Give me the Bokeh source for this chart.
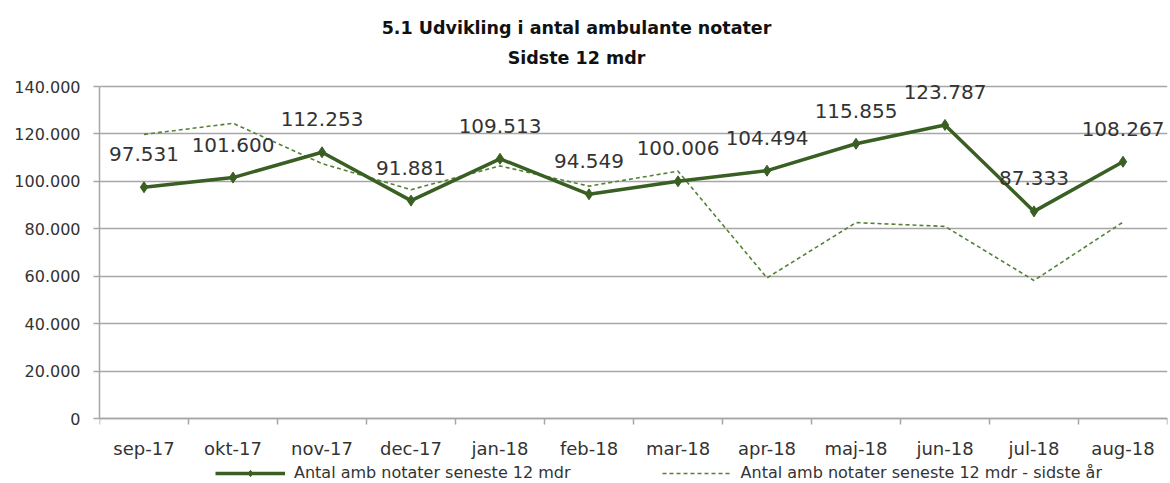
from bokeh.plotting import figure
from bokeh.models import FixedTicker, Legend, LegendItem, Label
from bokeh.embed import file_html
from bokeh.resources import INLINE
from bokeh.core.properties import value

months = ["sep-17", "okt-17", "nov-17", "dec-17", "jan-18", "feb-18",
          "mar-18", "apr-18", "maj-18", "jun-18", "jul-18", "aug-18"]
current = [97531, 101600, 112253, 91881, 109513, 94549,
           100006, 104494, 115855, 123787, 87333, 108267]
last_year = [119800, 124500, 107500, 96500, 106500, 98000,
             104300, 59300, 82600, 81000, 58200, 82800]
y_ticks = [0, 20000, 40000, 60000, 80000, 100000, 120000, 140000]
y_tick_labels = ["0", "20.000", "40.000", "60.000", "80.000", "100.000", "120.000", "140.000"]
title_lines = ["5.1 Udvikling i antal ambulante notater", "Sidste 12 mdr"]
series_names = ["Antal amb notater seneste 12 mdr", "Antal amb notater seneste 12 mdr - sidste år"]

x = list(range(1, len(months) + 1))
data_labels = [f"{v:,}".replace(",", ".") for v in current]

DARK = "#3A5F23"
LIGHT = "#548235"
GRID = "#a6a6a6"
TXT = "#333333"
FONT = "DejaVu Sans"

# layout (pixels): canvas 1170x483, plot area from y=86 (140.000) to y=418 (0)
W, H = 1170, 483
TOP_PX, BOT_PX = 86, 418
Y_MAX = max(y_ticks)
per_px = Y_MAX / (BOT_PX - TOP_PX)
y_lo = -(H - BOT_PX) * per_px
y_hi = Y_MAX + TOP_PX * per_px

p = figure(width=W, height=H, x_range=(0.5, len(months) + 0.5), y_range=(y_lo, y_hi),
           toolbar_location=None, output_backend="svg", title=None,
           min_border_left=99, min_border_right=3, min_border_top=0, min_border_bottom=0)
p.outline_line_color = None
p.background_fill_color = "white"
p.border_fill_color = "white"

# x axis sits at value 0 inside the frame
p.xaxis.fixed_location = 0
p.xaxis.ticker = FixedTicker(ticks=x, minor_ticks=[i + 0.5 for i in range(0, len(months) + 1)])
p.xaxis.major_label_overrides = {i: m for i, m in zip(x, months)}
p.xaxis.major_tick_out = 0
p.xaxis.major_tick_in = 0
p.xaxis.minor_tick_out = 6
p.xaxis.minor_tick_in = 0
p.xaxis.minor_tick_line_color = GRID
p.xaxis.minor_tick_line_width = 1.5
p.xaxis.axis_line_color = GRID
p.xaxis.axis_line_width = 1.5
p.xaxis.major_label_standoff = 13
p.xaxis.major_label_text_font = FONT
p.xaxis.major_label_text_font_size = "18px"
p.xaxis.major_label_text_color = TXT

p.yaxis.ticker = FixedTicker(ticks=y_ticks)
p.yaxis.bounds = (0, Y_MAX)
p.yaxis.major_label_overrides = dict(zip(y_ticks, y_tick_labels))
p.yaxis.minor_tick_line_color = None
p.yaxis.major_tick_out = 6
p.yaxis.major_tick_in = 0
p.yaxis.major_tick_line_color = GRID
p.yaxis.major_tick_line_width = 1.5
p.yaxis.axis_line_color = GRID
p.yaxis.axis_line_width = 1.5
p.yaxis.major_label_standoff = 13
p.yaxis.major_label_text_font = FONT
p.yaxis.major_label_text_font_size = "16px"
p.yaxis.major_label_text_color = TXT

p.xgrid.visible = False
p.ygrid.grid_line_color = GRID
p.ygrid.grid_line_width = 1.5

# series
r2 = p.line(x, last_year, line_color=LIGHT, line_width=1.6, line_dash="4 3")
r1 = p.line(x, current, line_color=DARK, line_width=3.5)
m1 = p.scatter(x, current, marker="diamond", size=11, color=DARK)

p.text(x, current, text=data_labels, y_offset=-33, text_align="center",
       text_baseline="middle", text_font=value(FONT), text_font_size="20px",
       text_color=TXT)

# two-line title (screen units, relative to the frame's bottom-left)
for i, t in enumerate(title_lines):
    p.add_layout(Label(x=477, y=H - 27 - 30 * i, x_units="screen", y_units="screen",
                       text=t, text_align="center", text_baseline="middle",
                       text_font=FONT, text_font_style="bold", text_font_size="17.5px",
                       text_color="#111111"))

legend = Legend(items=[LegendItem(label=series_names[0], renderers=[r1, m1]),
                       LegendItem(label=series_names[1], renderers=[r2])],
                orientation="horizontal", location=(116, 1),
                glyph_width=70, glyph_height=16, label_standoff=9, spacing=91,
                border_line_color=None, background_fill_alpha=0, padding=0, margin=0,
                label_text_font=FONT, label_text_font_size="16px", label_text_color=TXT)
p.add_layout(legend, "center")

open("out.html", "w").write(file_html(p, INLINE))
